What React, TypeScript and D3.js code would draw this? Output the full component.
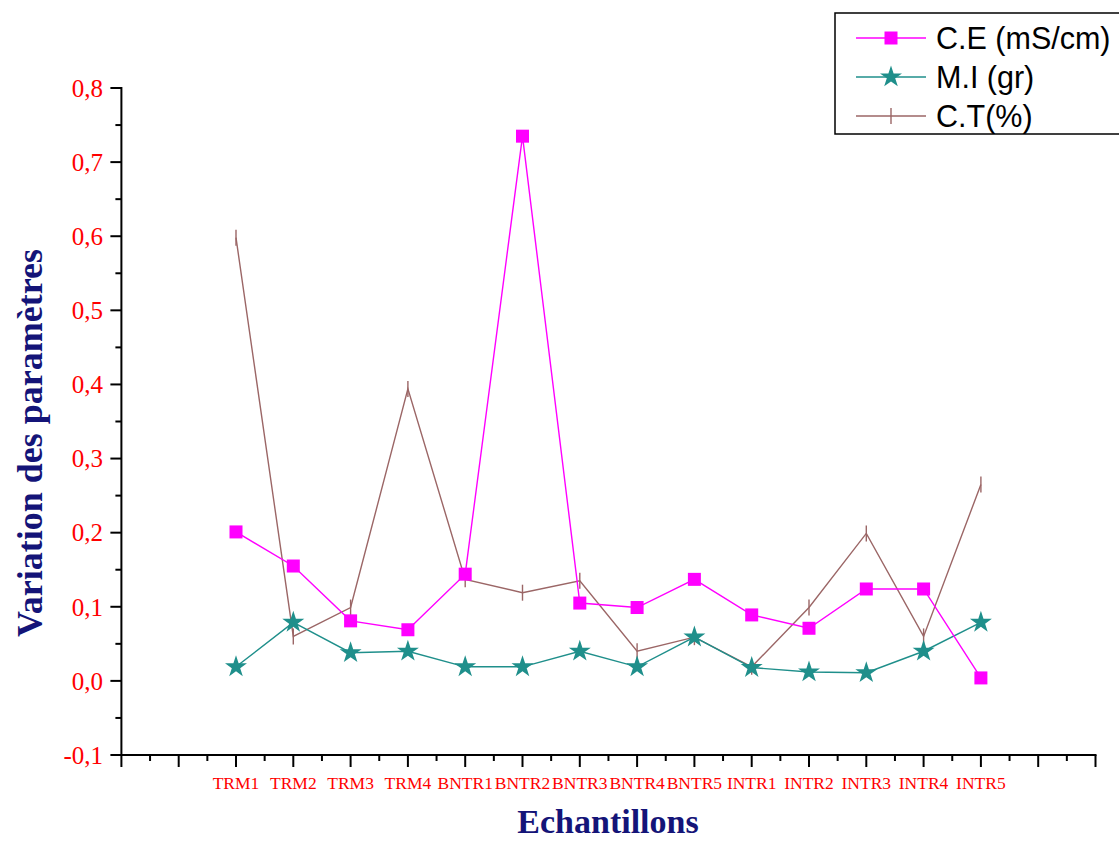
import React from "react";
import * as d3 from "d3";

const categories = ["TRM1", "TRM2", "TRM3", "TRM4", "BNTR1", "BNTR2", "BNTR3", "BNTR4", "BNTR5", "INTR1", "INTR2", "INTR3", "INTR4", "INTR5"];
const ceValues = [0.201, 0.155, 0.081, 0.069, 0.144, 0.735, 0.105, 0.099, 0.137, 0.089, 0.071, 0.124, 0.124, 0.004];
const miValues = [0.019, 0.079, 0.038, 0.04, 0.019, 0.019, 0.04, 0.019, 0.059, 0.018, 0.012, 0.011, 0.04, 0.079];
const ctValues = [0.598, 0.06, 0.099, 0.394, 0.137, 0.119, 0.135, 0.04, 0.059, 0.019, 0.099, 0.199, 0.06, 0.265];
const yTicks = [-0.1, 0, 0.1, 0.2, 0.3, 0.4, 0.5, 0.6, 0.7, 0.8];
const legendLabels = ["C.E (mS/cm)", "M.I (gr)", "C.T(%)"];

const W = 1119;
const H = 841;
const CE_COLOR = "#ff00ff";
const MI_COLOR = "#1f8f8b";
const CT_COLOR = "#9b6666";
const AXIS_TITLE_COLOR = "#141478";
const SERIF = "'Liberation Serif', 'Times New Roman', serif";

export default function App() {
  const x = d3.scaleLinear().domain([-2, 15]).range([121.4, 1095.5]);
  const y = d3.scaleLinear().domain([-0.1, 0.8]).range([755, 88]);

  const idx = categories.map((_, i) => i);
  const line = d3
    .line<number>()
    .x((d, i) => x(i))
    .y((d) => y(d));

  const majorX = d3.range(-2, 16);
  const minorX = d3.range(-1.5, 15, 1);
  const minorY = d3.range(-0.05, 0.8, 0.1);

  const star = d3.symbol().type(d3.symbolStar).size(150)();
  const square = 13;

  const x0 = x.range()[0];
  const y0 = y.range()[0];

  return (
    <svg
      width={W}
      height={H}
      style={{ position: "absolute", left: 0, top: 0, background: "#fff" }}
    >
      {/* C.T series: vertical tick markers */}
      <path d={line(ctValues) || ""} fill="none" stroke={CT_COLOR} strokeWidth={1.4} />
      {ctValues.map((v, i) => (
        <line key={"ct" + i} x1={x(i)} x2={x(i)} y1={y(v) - 8} y2={y(v) + 8} stroke={CT_COLOR} strokeWidth={1.4} />
      ))}

      {/* M.I series: star markers */}
      <path d={line(miValues) || ""} fill="none" stroke={MI_COLOR} strokeWidth={1.4} />
      {miValues.map((v, i) => (
        <path key={"mi" + i} d={star || ""} transform={`translate(${x(i)},${y(v)})`} fill={MI_COLOR} />
      ))}

      {/* C.E series: square markers */}
      <path d={line(ceValues) || ""} fill="none" stroke={CE_COLOR} strokeWidth={1.4} />
      {ceValues.map((v, i) => (
        <rect key={"ce" + i} x={x(i) - square / 2} y={y(v) - square / 2} width={square} height={square} fill={CE_COLOR} />
      ))}

      {/* Y axis */}
      <line x1={x0} x2={x0} y1={y(0.8) - 1} y2={y0 + 1} stroke="#000" strokeWidth={2} />
      {yTicks.map((t) => (
        <g key={"yt" + t}>
          <line x1={x0 - 11} x2={x0} y1={y(t)} y2={y(t)} stroke="#000" strokeWidth={2} />
          <text
            x={103}
            y={y(t)}
            dy="0.35em"
            textAnchor="end"
            fill="#ff0000"
            fontFamily={SERIF}
            fontSize={25}
          >
            {d3.format(".1f")(t).replace(".", ",").replace("−", "-")}
          </text>
        </g>
      ))}
      {minorY.map((t) => (
        <line key={"ym" + t} x1={x0 - 6} x2={x0} y1={y(t)} y2={y(t)} stroke="#000" strokeWidth={2} />
      ))}

      {/* X axis */}
      <line x1={x0 - 1} x2={x.range()[1] + 1} y1={y0} y2={y0} stroke="#000" strokeWidth={2} />
      {majorX.map((t) => (
        <line key={"xt" + t} x1={x(t)} x2={x(t)} y1={y0} y2={y0 + 12} stroke="#000" strokeWidth={2} />
      ))}
      {minorX.map((t) => (
        <line key={"xm" + t} x1={x(t)} x2={x(t)} y1={y0} y2={y0 + 6} stroke="#000" strokeWidth={2} />
      ))}
      {idx.map((i) => (
        <text
          key={"xl" + i}
          x={x(i)}
          y={789}
          textAnchor="middle"
          fill="#ff0000"
          fontFamily={SERIF}
          fontSize={17.5}
        >
          {categories[i]}
        </text>
      ))}

      {/* Axis titles */}
      <text
        x={608}
        y={833}
        textAnchor="middle"
        fill={AXIS_TITLE_COLOR}
        fontFamily={SERIF}
        fontWeight="bold"
        fontSize={34}
      >
        Echantillons
      </text>
      <text
        transform="translate(42,443) rotate(-90)"
        textAnchor="middle"
        fill={AXIS_TITLE_COLOR}
        fontFamily={SERIF}
        fontWeight="bold"
        fontSize={36}
      >
        Variation des paramètres
      </text>

      {/* Legend */}
      <g>
        <rect x={835} y={13} width={290} height={121} fill="#fff" stroke="#000" strokeWidth={1.5} />
        {legendLabels.map((label, i) => {
          const ly = 38 + i * 39;
          const color = [CE_COLOR, MI_COLOR, CT_COLOR][i];
          return (
            <g key={"lg" + i}>
              <line x1={856} x2={926} y1={ly} y2={ly} stroke={color} strokeWidth={1.4} />
              {i === 0 && <rect x={891 - square / 2} y={ly - square / 2} width={square} height={square} fill={color} />}
              {i === 1 && <path d={star || ""} transform={`translate(891,${ly})`} fill={color} />}
              {i === 2 && <line x1={891} x2={891} y1={ly - 8} y2={ly + 8} stroke={color} strokeWidth={1.4} />}
              <text
                x={936}
                y={ly}
                dy="0.36em"
                fill="#000"
                fontFamily="'Liberation Sans', Arial, sans-serif"
                fontSize={30.5}
              >
                {label}
              </text>
            </g>
          );
        })}
      </g>
    </svg>
  );
}
